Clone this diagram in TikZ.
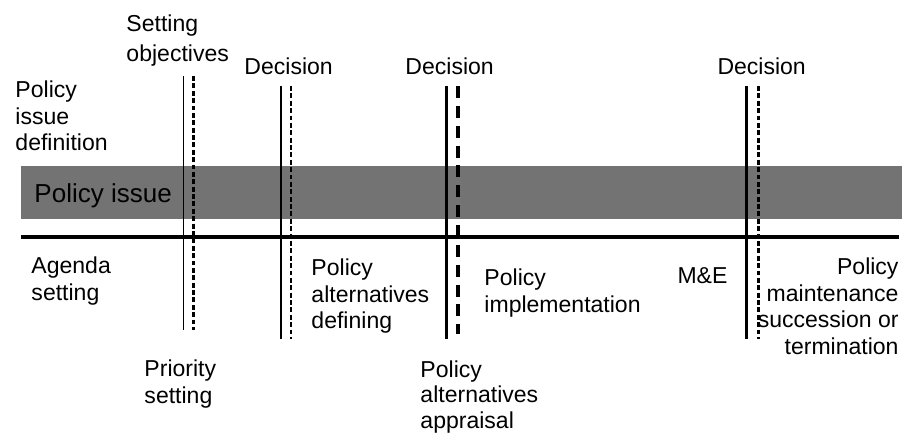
\documentclass[tikz,border=0pt]{standalone}
\usepackage{fontspec}
\setmainfont{Liberation Sans}
\definecolor{issuegrey}{RGB}{115,115,115}

\begin{document}
\begin{tikzpicture}[line width=1.7pt,
  lbl/.style={anchor=north west,inner sep=0pt,align=left,font=\fontsize{13.1}{15.3}\selectfont},
  thinsolid/.style={line width=0.75pt},
  thindash/.style={line width=1.3pt,dash pattern=on 2.8pt off 1.4pt},
  thickdash/.style={line width=2.3pt,dash pattern=on 6.8pt off 4.5pt}]
  \useasboundingbox (0,0) rectangle (18.04,8.66);
  % the policy issue band and the time line
  \fill[issuegrey] (0.42,4.28) rectangle (18.04,5.34);
  \node[lbl,font=\fontsize{14.8}{17}\selectfont] (issue) at (0.66,5.02) {Policy issue};
  \coordinate (L) at (0.42,3.92);
  \coordinate (R) at (17.98,3.92);
  \draw[line width=2.2pt] (L) -- (R);

  % objectives
  \coordinate (A1) at (3.67,7.14);
  \coordinate (A2) at (3.67,2.06);
  \coordinate (B1) at (3.87,7.14);
  \coordinate (B2) at (3.87,2.06);
  \draw[thinsolid] (A1) -- (A2);
  \draw[thindash] (B1) -- (B2);

  % first decision
  \coordinate (C1) at (5.62,6.94);
  \coordinate (C2) at (5.62,1.88);
  \coordinate (D1) at (5.82,6.94);
  \coordinate (D2) at (5.82,1.88);
  \draw (C1) -- (C2);
  \draw[thindash] (D1) -- (D2);

  % second decision
  \coordinate (E1) at (8.93,6.94);
  \coordinate (E2) at (8.93,1.88);
  \coordinate (F1) at (9.16,6.94);
  \coordinate (F2) at (9.16,1.98);
  \draw (E1) -- (E2);
  \draw[thickdash] (F1) -- (F2);

  % third decision
  \coordinate (G1) at (14.93,6.94);
  \coordinate (G2) at (14.93,1.88);
  \coordinate (H1) at (15.17,6.94);
  \coordinate (H2) at (15.17,1.88);
  \draw[line width=1.3pt] (G1) -- (G2);
  \draw[thindash] (H1) -- (H2);

  % labels above the band
  \node[lbl] (definition) at (0.28,7.08) {Policy\\issue\\definition};
  \node[lbl,font=\fontsize{13.1}{17}\selectfont] (objectives) at (2.50,8.40) {Setting\\objectives};
  \node[lbl] (decA) at (4.86,7.54) {Decision};
  \node[lbl] (decB) at (8.08,7.54) {Decision};
  \node[lbl] (decC) at (14.32,7.54) {Decision};

  % labels below the line
  \node[lbl] (agenda) at (0.60,3.56) {Agenda\\setting};
  \node[lbl] (priority) at (2.86,1.50) {Priority\\setting};
  \node[lbl] (defining) at (6.20,3.52) {Policy\\alternatives\\defining};
  \node[lbl,font=\fontsize{13.1}{14.4}\selectfont] (appraisal) at (8.38,1.47) {Policy\\alternatives\\appraisal};
  \node[lbl] (implement) at (9.66,3.32) {Policy\\implementation};
  \node[lbl] (me) at (13.52,3.34) {M\&E};
  \node[lbl,anchor=north east,align=right] (maintain) at (18.00,3.54)
    {Policy\\maintenance\\succession or\\termination};
\end{tikzpicture}
\end{document}
